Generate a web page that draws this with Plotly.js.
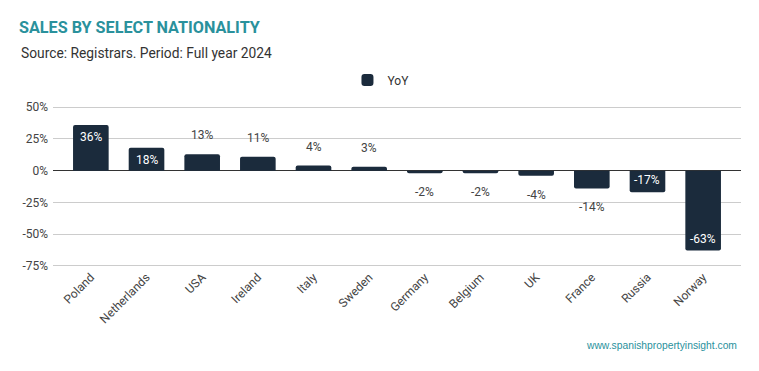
<!DOCTYPE html>
<html><head><meta charset="utf-8">
<script src="https://cdn.plot.ly/plotly-3.0.1.min.js"></script>
<style>html,body{margin:0;padding:0;background:#fff;}#c{width:759px;height:371px;}</style>
</head><body><div id="c"></div>
<script>
const categories = ["Poland","Netherlands","USA","Ireland","Italy","Sweden","Germany","Belgium","UK","France","Russia","Norway"];
const yoy = [36,18,13,11,4,3,-2,-2,-4,-14,-17,-63];
const yTicks = [50,25,0,-25,-50,-75];
const yTickText = ["50%","25%","0%","-25%","-50%","-75%"];

const barColor = "#1b2b3c";
const teal = "#2a919c";

const annotations = categories.map((c,i)=>{
  const v = yoy[i];
  const inside = Math.abs(v) >= 15;
  const dir = v >= 0 ? 1 : -1;
  return {
    x: c, y: v, xref:'x', yref:'y', text: v + '%', showarrow:false,
    yanchor:'middle', yshift: inside ? -12*dir : 19*dir,
    font:{family:'Roboto', size:12, color: inside ? '#ffffff' : '#444444'}
  };
});
annotations.push({
  xref:'paper', yref:'paper', x:-0.0494, y:1.3286, xanchor:'left', yanchor:'middle',
  text:'Source: Registrars. Period: Full year 2024', showarrow:false,
  font:{family:'Roboto', size:13.8, color:'#333333'}
});
annotations.push({
  xref:'paper', yref:'paper', x:0.997, y:-0.488, xanchor:'right', yanchor:'middle',
  text:'www.spanishpropertyinsight.com', showarrow:false,
  font:{family:'Arial, Liberation Sans', size:10.3, color:teal}
});

const data = [{
  type:'bar', x: categories, y: yoy, name:'YoY',
  marker:{color:barColor, cornerradius:2},
  hoverinfo:'skip'
}];

const layout = {
  width:759, height:371,
  margin:{l:53, r:18, t:106, b:104},
  paper_bgcolor:'#ffffff', plot_bgcolor:'#ffffff',
  font:{family:'Roboto', color:'#444444', size:12},
  title:{text:'<b>SALES BY SELECT NATIONALITY</b>', xref:'container', yref:'container',
    x:0.025, xanchor:'left', y:0.927, yanchor:'middle',
    font:{family:'Roboto', size:16.2, color:teal}},
  showlegend:true,
  legend:{orientation:'h', x:0.428, xanchor:'left', y:1.161, yanchor:'middle',
    font:{family:'Roboto', size:12, color:'#333333'}, itemwidth:30},
  bargap:0.36,
  xaxis:{type:'category', range:[-0.68, 11.68], tickangle:-45, showgrid:false,
    showline:false, zeroline:false, ticks:'', tickfont:{family:'Roboto', size:12, color:'#444444'}, fixedrange:true},
  yaxis:{range:[-76,51], tickvals:yTicks, ticktext:yTickText, showgrid:true, gridcolor:'#cccccc', gridwidth:1,
    zeroline:true, zerolinecolor:'#333333', zerolinewidth:1.3, showline:false, ticks:'',
    ticklabelstandoff:4, tickfont:{family:'Roboto', size:12, color:'#444444'}, fixedrange:true},
  annotations: annotations
};
Plotly.newPlot('c', data, layout, {displayModeBar:false, staticPlot:true});
</script></body></html>
